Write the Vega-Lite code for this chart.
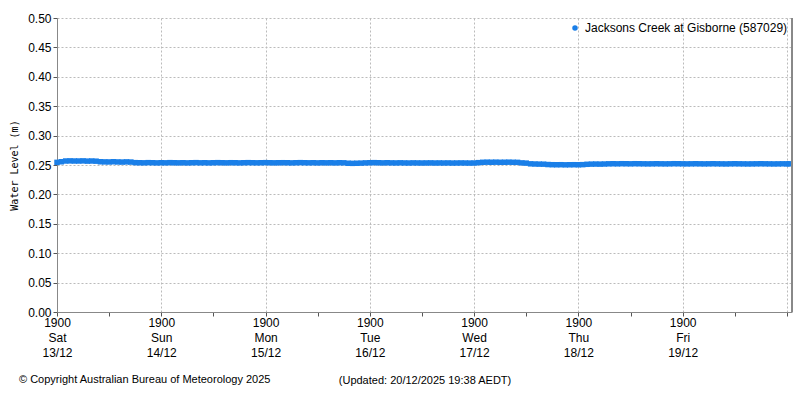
{
  "$schema": "https://vega.github.io/schema/vega-lite/v6.json",
  "autosize": {"type": "none"},
  "width": 735,
  "height": 294,
  "padding": {"left": 57, "top": 18, "right": 8, "bottom": 88},
  "background": "white",
  "config": {
    "view": {"stroke": null},
    "font": "Liberation Sans",
    "axis": {"labelFont": "Liberation Sans", "labelFontSize": 12, "labelColor": "#000", "domainColor": "#888", "tickColor": "#555", "gridColor": "#bbb", "gridDash": [2, 2]}
  },
  "title": {"text": "© Copyright Australian Bureau of Meteorology 2025", "orient": "bottom", "anchor": "start", "frame": "group", "dx": -38, "offset": -11, "fontSize": 11, "fontWeight": "normal", "font": "Liberation Sans", "color": "#000"},
  "datasets": {
    "level": [
      {"t": "2025-12-13T19:00", "v": 0.2545}, {"t": "2025-12-13T20:00", "v": 0.2555}, {"t": "2025-12-13T21:00", "v": 0.2568}, {"t": "2025-12-13T22:00", "v": 0.2570}, {"t": "2025-12-13T23:00", "v": 0.2568},
      {"t": "2025-12-14T00:00", "v": 0.2568}, {"t": "2025-12-14T01:00", "v": 0.2570}, {"t": "2025-12-14T02:00", "v": 0.2566}, {"t": "2025-12-14T03:00", "v": 0.2568}, {"t": "2025-12-14T04:00", "v": 0.2565},
      {"t": "2025-12-14T05:00", "v": 0.2555}, {"t": "2025-12-14T06:00", "v": 0.2553}, {"t": "2025-12-14T07:00", "v": 0.2552}, {"t": "2025-12-14T08:00", "v": 0.2555}, {"t": "2025-12-14T09:00", "v": 0.2552},
      {"t": "2025-12-14T10:00", "v": 0.2550}, {"t": "2025-12-14T11:00", "v": 0.2553}, {"t": "2025-12-14T12:00", "v": 0.2550}, {"t": "2025-12-14T13:00", "v": 0.2540}, {"t": "2025-12-14T14:00", "v": 0.2538},
      {"t": "2025-12-14T15:00", "v": 0.2537}, {"t": "2025-12-14T16:00", "v": 0.2540}, {"t": "2025-12-14T17:00", "v": 0.2538}, {"t": "2025-12-14T18:00", "v": 0.2536}, {"t": "2025-12-14T19:00", "v": 0.2538},
      {"t": "2025-12-14T20:00", "v": 0.2537}, {"t": "2025-12-14T21:00", "v": 0.2540}, {"t": "2025-12-14T22:00", "v": 0.2538}, {"t": "2025-12-14T23:00", "v": 0.2537},
      {"t": "2025-12-15T00:00", "v": 0.2538}, {"t": "2025-12-15T01:00", "v": 0.2536}, {"t": "2025-12-15T02:00", "v": 0.2538}, {"t": "2025-12-15T03:00", "v": 0.2540}, {"t": "2025-12-15T04:00", "v": 0.2537},
      {"t": "2025-12-15T05:00", "v": 0.2538}, {"t": "2025-12-15T06:00", "v": 0.2536}, {"t": "2025-12-15T07:00", "v": 0.2538}, {"t": "2025-12-15T08:00", "v": 0.2540}, {"t": "2025-12-15T09:00", "v": 0.2538},
      {"t": "2025-12-15T10:00", "v": 0.2537}, {"t": "2025-12-15T11:00", "v": 0.2539}, {"t": "2025-12-15T12:00", "v": 0.2538}, {"t": "2025-12-15T13:00", "v": 0.2536}, {"t": "2025-12-15T14:00", "v": 0.2538},
      {"t": "2025-12-15T15:00", "v": 0.2540}, {"t": "2025-12-15T16:00", "v": 0.2538}, {"t": "2025-12-15T17:00", "v": 0.2537}, {"t": "2025-12-15T18:00", "v": 0.2538}, {"t": "2025-12-15T19:00", "v": 0.2540},
      {"t": "2025-12-15T20:00", "v": 0.2538}, {"t": "2025-12-15T21:00", "v": 0.2537}, {"t": "2025-12-15T22:00", "v": 0.2538}, {"t": "2025-12-15T23:00", "v": 0.2539},
      {"t": "2025-12-16T00:00", "v": 0.2538}, {"t": "2025-12-16T01:00", "v": 0.2536}, {"t": "2025-12-16T02:00", "v": 0.2538}, {"t": "2025-12-16T03:00", "v": 0.2540}, {"t": "2025-12-16T04:00", "v": 0.2538},
      {"t": "2025-12-16T05:00", "v": 0.2537}, {"t": "2025-12-16T06:00", "v": 0.2538}, {"t": "2025-12-16T07:00", "v": 0.2536}, {"t": "2025-12-16T08:00", "v": 0.2538}, {"t": "2025-12-16T09:00", "v": 0.2537},
      {"t": "2025-12-16T10:00", "v": 0.2538}, {"t": "2025-12-16T11:00", "v": 0.2536}, {"t": "2025-12-16T12:00", "v": 0.2538}, {"t": "2025-12-16T13:00", "v": 0.2537}, {"t": "2025-12-16T14:00", "v": 0.2530},
      {"t": "2025-12-16T15:00", "v": 0.2528}, {"t": "2025-12-16T16:00", "v": 0.2530}, {"t": "2025-12-16T17:00", "v": 0.2532}, {"t": "2025-12-16T18:00", "v": 0.2536}, {"t": "2025-12-16T19:00", "v": 0.2538},
      {"t": "2025-12-16T20:00", "v": 0.2540}, {"t": "2025-12-16T21:00", "v": 0.2538}, {"t": "2025-12-16T22:00", "v": 0.2536}, {"t": "2025-12-16T23:00", "v": 0.2538},
      {"t": "2025-12-17T00:00", "v": 0.2536}, {"t": "2025-12-17T01:00", "v": 0.2535}, {"t": "2025-12-17T02:00", "v": 0.2537}, {"t": "2025-12-17T03:00", "v": 0.2535}, {"t": "2025-12-17T04:00", "v": 0.2534},
      {"t": "2025-12-17T05:00", "v": 0.2536}, {"t": "2025-12-17T06:00", "v": 0.2535}, {"t": "2025-12-17T07:00", "v": 0.2534}, {"t": "2025-12-17T08:00", "v": 0.2535}, {"t": "2025-12-17T09:00", "v": 0.2536},
      {"t": "2025-12-17T10:00", "v": 0.2534}, {"t": "2025-12-17T11:00", "v": 0.2535}, {"t": "2025-12-17T12:00", "v": 0.2534}, {"t": "2025-12-17T13:00", "v": 0.2535}, {"t": "2025-12-17T14:00", "v": 0.2533},
      {"t": "2025-12-17T15:00", "v": 0.2534}, {"t": "2025-12-17T16:00", "v": 0.2535}, {"t": "2025-12-17T17:00", "v": 0.2534}, {"t": "2025-12-17T18:00", "v": 0.2533}, {"t": "2025-12-17T19:00", "v": 0.2534},
      {"t": "2025-12-17T20:00", "v": 0.2540}, {"t": "2025-12-17T21:00", "v": 0.2546}, {"t": "2025-12-17T22:00", "v": 0.2548}, {"t": "2025-12-17T23:00", "v": 0.2547},
      {"t": "2025-12-18T00:00", "v": 0.2548}, {"t": "2025-12-18T01:00", "v": 0.2546}, {"t": "2025-12-18T02:00", "v": 0.2547}, {"t": "2025-12-18T03:00", "v": 0.2548}, {"t": "2025-12-18T04:00", "v": 0.2546},
      {"t": "2025-12-18T05:00", "v": 0.2545}, {"t": "2025-12-18T06:00", "v": 0.2536}, {"t": "2025-12-18T07:00", "v": 0.2532}, {"t": "2025-12-18T08:00", "v": 0.2520}, {"t": "2025-12-18T09:00", "v": 0.2517},
      {"t": "2025-12-18T10:00", "v": 0.2515}, {"t": "2025-12-18T11:00", "v": 0.2514}, {"t": "2025-12-18T12:00", "v": 0.2508}, {"t": "2025-12-18T13:00", "v": 0.2505}, {"t": "2025-12-18T14:00", "v": 0.2504},
      {"t": "2025-12-18T15:00", "v": 0.2505}, {"t": "2025-12-18T16:00", "v": 0.2503}, {"t": "2025-12-18T17:00", "v": 0.2504}, {"t": "2025-12-18T18:00", "v": 0.2505}, {"t": "2025-12-18T19:00", "v": 0.2504},
      {"t": "2025-12-18T20:00", "v": 0.2506}, {"t": "2025-12-18T21:00", "v": 0.2512}, {"t": "2025-12-18T22:00", "v": 0.2515}, {"t": "2025-12-18T23:00", "v": 0.2516},
      {"t": "2025-12-19T00:00", "v": 0.2515}, {"t": "2025-12-19T01:00", "v": 0.2517}, {"t": "2025-12-19T02:00", "v": 0.2520}, {"t": "2025-12-19T03:00", "v": 0.2521}, {"t": "2025-12-19T04:00", "v": 0.2520},
      {"t": "2025-12-19T05:00", "v": 0.2522}, {"t": "2025-12-19T06:00", "v": 0.2521}, {"t": "2025-12-19T07:00", "v": 0.2520}, {"t": "2025-12-19T08:00", "v": 0.2522}, {"t": "2025-12-19T09:00", "v": 0.2521},
      {"t": "2025-12-19T10:00", "v": 0.2520}, {"t": "2025-12-19T11:00", "v": 0.2519}, {"t": "2025-12-19T12:00", "v": 0.2520}, {"t": "2025-12-19T13:00", "v": 0.2521}, {"t": "2025-12-19T14:00", "v": 0.2520},
      {"t": "2025-12-19T15:00", "v": 0.2519}, {"t": "2025-12-19T16:00", "v": 0.2520}, {"t": "2025-12-19T17:00", "v": 0.2522}, {"t": "2025-12-19T18:00", "v": 0.2521}, {"t": "2025-12-19T19:00", "v": 0.2520},
      {"t": "2025-12-19T20:00", "v": 0.2519}, {"t": "2025-12-19T21:00", "v": 0.2520}, {"t": "2025-12-19T22:00", "v": 0.2521}, {"t": "2025-12-19T23:00", "v": 0.2520},
      {"t": "2025-12-20T00:00", "v": 0.2519}, {"t": "2025-12-20T01:00", "v": 0.2520}, {"t": "2025-12-20T02:00", "v": 0.2521}, {"t": "2025-12-20T03:00", "v": 0.2520}, {"t": "2025-12-20T04:00", "v": 0.2519},
      {"t": "2025-12-20T05:00", "v": 0.2518}, {"t": "2025-12-20T06:00", "v": 0.2520}, {"t": "2025-12-20T07:00", "v": 0.2521}, {"t": "2025-12-20T08:00", "v": 0.2520}, {"t": "2025-12-20T09:00", "v": 0.2519},
      {"t": "2025-12-20T10:00", "v": 0.2518}, {"t": "2025-12-20T11:00", "v": 0.2519}, {"t": "2025-12-20T12:00", "v": 0.2520}, {"t": "2025-12-20T13:00", "v": 0.2521}, {"t": "2025-12-20T14:00", "v": 0.2520},
      {"t": "2025-12-20T15:00", "v": 0.2519}, {"t": "2025-12-20T16:00", "v": 0.2518}, {"t": "2025-12-20T17:00", "v": 0.2519}, {"t": "2025-12-20T18:00", "v": 0.2520}, {"t": "2025-12-20T19:00", "v": 0.2519},
      {"t": "2025-12-20T19:30", "v": 0.2520}
    ]
  },
  "data": {"name": "level"},
  "layer": [
    {
      "mark": {"type": "point", "filled": true, "shape": "square", "size": 30, "opacity": 1},
      "encoding": {
        "x": {
          "field": "t", "type": "temporal",
          "scale": {"domain": [{"year": 2025, "month": 12, "date": 13, "hours": 19}, {"year": 2025, "month": 12, "date": 20, "hours": 20, "minutes": 10}]},
          "axis": {
            "title": "(Updated: 20/12/2025 19:38 AEDT)",
            "titleFont": "Liberation Sans", "titleFontSize": 11, "titleFontWeight": "normal", "titleColor": "#000", "titlePadding": 16,
            "values": [
              {"year": 2025, "month": 12, "date": 13, "hours": 19},
              {"year": 2025, "month": 12, "date": 14, "hours": 1}, {"year": 2025, "month": 12, "date": 14, "hours": 7}, {"year": 2025, "month": 12, "date": 14, "hours": 13}, {"year": 2025, "month": 12, "date": 14, "hours": 19},
              {"year": 2025, "month": 12, "date": 15, "hours": 1}, {"year": 2025, "month": 12, "date": 15, "hours": 7}, {"year": 2025, "month": 12, "date": 15, "hours": 13}, {"year": 2025, "month": 12, "date": 15, "hours": 19},
              {"year": 2025, "month": 12, "date": 16, "hours": 1}, {"year": 2025, "month": 12, "date": 16, "hours": 7}, {"year": 2025, "month": 12, "date": 16, "hours": 13}, {"year": 2025, "month": 12, "date": 16, "hours": 19},
              {"year": 2025, "month": 12, "date": 17, "hours": 1}, {"year": 2025, "month": 12, "date": 17, "hours": 7}, {"year": 2025, "month": 12, "date": 17, "hours": 13}, {"year": 2025, "month": 12, "date": 17, "hours": 19},
              {"year": 2025, "month": 12, "date": 18, "hours": 1}, {"year": 2025, "month": 12, "date": 18, "hours": 7}, {"year": 2025, "month": 12, "date": 18, "hours": 13}, {"year": 2025, "month": 12, "date": 18, "hours": 19},
              {"year": 2025, "month": 12, "date": 19, "hours": 1}, {"year": 2025, "month": 12, "date": 19, "hours": 7}, {"year": 2025, "month": 12, "date": 19, "hours": 13}, {"year": 2025, "month": 12, "date": 19, "hours": 19},
              {"year": 2025, "month": 12, "date": 20, "hours": 1}, {"year": 2025, "month": 12, "date": 20, "hours": 7}, {"year": 2025, "month": 12, "date": 20, "hours": 13}, {"year": 2025, "month": 12, "date": 20, "hours": 19}
            ],
            "labelExpr": "hours(datum.value) == 19 && date(datum.value) != 20 ? [timeFormat(datum.value, '%H%M'), timeFormat(datum.value, '%a'), timeFormat(datum.value, '%d/%m')] : ''",
            "labelOverlap": false, "labelFlush": false, "labelLineHeight": 15, "labelPadding": 1,
            "tickSize": 4,
            "grid": true,
            "gridOpacity": {"condition": {"test": "hours(datum.value) == 19", "value": 1}, "value": 0}
          }
        },
        "y": {
          "field": "v", "type": "quantitative",
          "scale": {"domain": [0, 0.5], "nice": false, "zero": true},
          "axis": {
            "title": "Water Level (m)", "titleFont": "DejaVu Sans Mono", "titleFontSize": 10, "titleFontWeight": "normal", "titleColor": "#000", "titlePadding": 8,
            "values": [0, 0.05, 0.1, 0.15, 0.2, 0.25, 0.3, 0.35, 0.4, 0.45, 0.5],
            "format": ".2f", "tickSize": 4, "labelPadding": 2, "grid": true
          }
        },
        "color": {
          "datum": "Jacksons Creek at Gisborne (587029)",
          "scale": {"range": ["#1a7fe8"]},
          "legend": {"title": null, "orient": "top-right", "offset": 4, "labelFont": "Liberation Sans", "labelFontSize": 12, "labelColor": "#000", "labelLimit": 0, "symbolType": "circle", "symbolSize": 30, "symbolOpacity": 1}
        }
      }
    },
    {
      "mark": {"type": "rule", "color": "#888", "strokeWidth": 1},
      "encoding": {"x": {"datum": {"year": 2025, "month": 12, "date": 20, "hours": 20, "minutes": 10}, "type": "temporal"}}
    }
  ]
}
